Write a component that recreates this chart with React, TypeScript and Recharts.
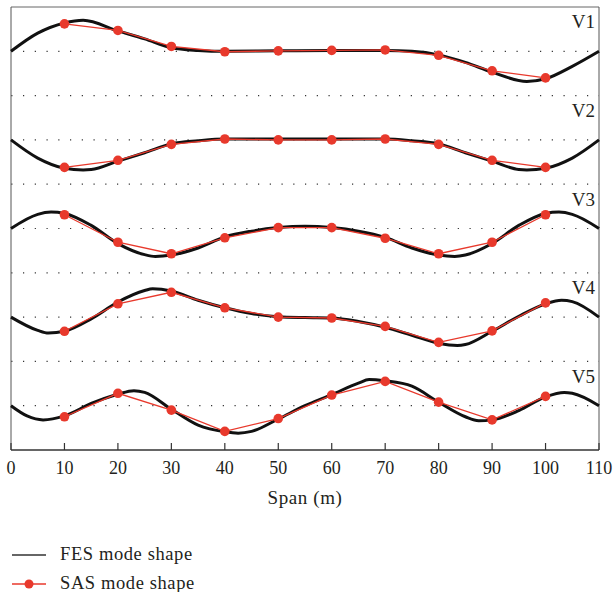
import { LineChart, Line, XAxis, YAxis, ReferenceLine, ReferenceDot, Legend } from 'recharts';

const SPAN_TICKS = [0, 10, 20, 30, 40, 50, 60, 70, 80, 90, 100, 110];
const SENSOR_SPAN = [10, 20, 30, 40, 50, 60, 70, 80, 90, 100];
const MODE_NAMES = ['V1', 'V2', 'V3', 'V4', 'V5'];
const MODE_BASELINES = [9, 7, 5, 3, 1];
const GRID_LEVELS = [1, 2, 3, 4, 5, 6, 7, 8, 9];

// SAS (sensor) mode shapes, one value per sensor
const SAS_V1 = [0.62, 0.47, 0.11, -0.01, 0.01, 0.02, 0.03, -0.09, -0.44, -0.6];
const SAS_V2 = [-0.62, -0.46, -0.1, 0.02, 0, 0, 0.02, -0.1, -0.46, -0.62];
const SAS_V3 = [0.31, -0.31, -0.57, -0.21, 0.02, 0.02, -0.22, -0.57, -0.31, 0.31];
const SAS_V4 = [-0.32, 0.3, 0.56, 0.21, 0, -0.02, -0.21, -0.57, -0.31, 0.32];
const SAS_V5 = [-0.25, 0.28, -0.1, -0.58, -0.29, 0.24, 0.55, 0.08, -0.32, 0.21];

// FES mode shapes, read along the span
const FES_V1_SPAN = [0, 5, 10, 13.5, 20, 25, 30, 35, 40, 50, 60, 70, 75, 80, 85, 90, 96.5, 100, 105, 110];
const FES_V1 = [0, 0.41, 0.64, 0.7, 0.46, 0.28, 0.08, 0.02, 0, 0.01, 0.02, 0.02, 0, -0.08, -0.25, -0.47, -0.68, -0.62, -0.34, 0];

const FES_V2_SPAN = [0, 5, 10, 13.5, 15, 20, 25, 30, 35, 40, 50, 60, 70, 75, 80, 85, 90, 95, 96.5, 100, 105, 110];
const FES_V2 = [0, -0.41, -0.64, -0.68, -0.67, -0.48, -0.29, -0.09, -0.02, 0.02, 0.02, 0.02, 0.02, -0.02, -0.09, -0.29, -0.48, -0.67, -0.68, -0.64, -0.41, 0];

const FES_V3_SPAN = [0, 5, 7.5, 10, 15, 20, 25, 27, 30, 35, 40, 45, 50, 55, 60, 65, 70, 75, 80, 83, 85, 90, 95, 100, 102.5, 105, 110];
const FES_V3 = [0, 0.32, 0.37, 0.34, 0.07, -0.34, -0.59, -0.63, -0.6, -0.44, -0.19, -0.06, 0.02, 0.05, 0.02, -0.06, -0.2, -0.44, -0.6, -0.63, -0.6, -0.34, 0.07, 0.34, 0.37, 0.32, 0];

const FES_V4_SPAN = [0, 5, 7, 10, 15, 20, 25, 26.5, 30, 35, 40, 45, 50, 55, 60, 65, 70, 75, 80, 83.5, 85, 90, 95, 100, 103, 105, 110];
const FES_V4 = [0, -0.3, -0.36, -0.32, -0.04, 0.34, 0.6, 0.64, 0.59, 0.38, 0.21, 0.08, 0.01, -0.01, -0.02, -0.1, -0.23, -0.41, -0.59, -0.64, -0.62, -0.32, 0.02, 0.3, 0.38, 0.35, 0];

const FES_V5_SPAN = [0, 3, 6, 10, 15, 20, 23, 25, 30, 35, 40, 42.5, 45, 50, 55, 60, 65, 67, 70, 75, 80, 85, 87.5, 90, 95, 100, 103.5, 105, 110];
const FES_V5 = [0, -0.23, -0.32, -0.23, 0.05, 0.26, 0.34, 0.3, -0.08, -0.44, -0.59, -0.62, -0.58, -0.3, 0, 0.25, 0.51, 0.59, 0.56, 0.44, 0.08, -0.25, -0.34, -0.32, -0.11, 0.2, 0.3, 0.28, 0];

const SAS_SHAPES = [SAS_V1, SAS_V2, SAS_V3, SAS_V4, SAS_V5];
const FES_SPANS = [FES_V1_SPAN, FES_V2_SPAN, FES_V3_SPAN, FES_V4_SPAN, FES_V5_SPAN];
const FES_SHAPES = [FES_V1, FES_V2, FES_V3, FES_V4, FES_V5];

const FONT = '"Liberation Serif", "Times New Roman", serif';
const TEXT = '#231f20';
const RED = '#e8392c';

const fesData = FES_SHAPES.map((shape, m) =>
  shape.map((v, j) => ({ span: FES_SPANS[m][j], y: v + MODE_BASELINES[m] }))
);
const sasData = SAS_SHAPES.map((shape, m) =>
  shape.map((v, j) => ({ span: SENSOR_SPAN[j], y: v + MODE_BASELINES[m] }))
);

function SpanTick({ x, y, payload }: any) {
  return (
    <g>
      <line x1={x} x2={x} y1={y} y2={y - 7} stroke="#333" strokeWidth={1.2} />
      <text x={x} y={y + 24} textAnchor="middle" fontFamily={FONT} fontSize={18} fill={TEXT}>
        {payload.value}
      </text>
    </g>
  );
}

function LegendBox({ payload }: any) {
  const seen = new Set<string>();
  const items = (payload || []).filter((p: any) => {
    if (seen.has(p.value)) return false;
    seen.add(p.value);
    return true;
  });
  return (
    <svg width={260} height={60}>
      {items.map((p: any, i: number) => {
        const cy = 20 + i * 29;
        const sas = p.value.startsWith('SAS');
        return (
          <g key={p.value}>
            <line x1={12} x2={46} y1={cy} y2={cy} stroke={sas ? RED : '#333'} strokeWidth={sas ? 1.3 : 1.5} />
            {sas && <circle cx={29} cy={cy} r={4.5} fill={RED} />}
            <text x={60} y={cy + 5} fontFamily={FONT} fontSize={18.5} letterSpacing={0.6} fill={TEXT}>
              {p.value}
            </text>
          </g>
        );
      })}
    </svg>
  );
}

export default function App() {
  return (
    <div style={{ position: 'absolute', left: 0, top: 0, width: 616, height: 592, background: '#fff' }}>
      <LineChart width={616} height={592} margin={{ top: 7, right: 17, left: 11, bottom: 82 }}>
        <XAxis
          dataKey="span"
          type="number"
          domain={[0, 110]}
          ticks={SPAN_TICKS}
          interval={0}
          tick={<SpanTick />}
          tickLine={false}
          tickSize={0}
          tickMargin={0}
          height={60}
          axisLine={{ stroke: '#333', strokeWidth: 1.3 }}
          label={(props: any) => {
            const vb = props.viewBox;
            return (
              <text x={vb.x + vb.width / 2} y={vb.y + 54} textAnchor="middle" fontFamily={FONT} fontSize={19} letterSpacing={0.6} fill={TEXT}>
                Span (m)
              </text>
            );
          }}
        />
        <YAxis hide type="number" domain={[0, 10]} allowDataOverflow />
        {GRID_LEVELS.map((g) => (
          <ReferenceLine key={`g${g}`} y={g} stroke="#333" strokeWidth={1.2} strokeDasharray="1.2 10.55" strokeDashoffset={-12} />
        ))}
        <ReferenceLine y={10} stroke="#666" strokeWidth={1} />
        <ReferenceLine x={0} stroke="#555" strokeWidth={1} />
        <ReferenceLine x={110} stroke="#555" strokeWidth={1} />
        {fesData.map((d, m) => (
          <Line
            key={`fes${m}`}
            data={d}
            dataKey="y"
            name="FES mode shape"
            type="monotone"
            stroke="#111"
            strokeWidth={3}
            dot={false}
            activeDot={false}
            isAnimationActive={false}
          />
        ))}
        {sasData.map((d, m) => (
          <Line
            key={`sas${m}`}
            data={d}
            dataKey="y"
            name="SAS mode shape"
            type="linear"
            stroke={RED}
            strokeWidth={1.3}
            dot={{ r: 4.8, fill: RED, stroke: 'none' }}
            activeDot={false}
            isAnimationActive={false}
          />
        ))}
        {MODE_NAMES.map((name, m) => (
          <ReferenceDot
            key={name}
            x={110}
            y={MODE_BASELINES[m] + 0.67}
            r={0}
            fill="none"
            stroke="none"
            label={{ value: name, position: 'left', offset: 4, fontFamily: FONT, fontSize: 19, fill: TEXT }}
          />
        ))}
        <Legend
          layout="horizontal"
          align="center"
          verticalAlign="middle"
          content={<LegendBox />}
          wrapperStyle={{ left: 0, top: 535, width: 260, height: 57 }}
        />
      </LineChart>
    </div>
  );
}
